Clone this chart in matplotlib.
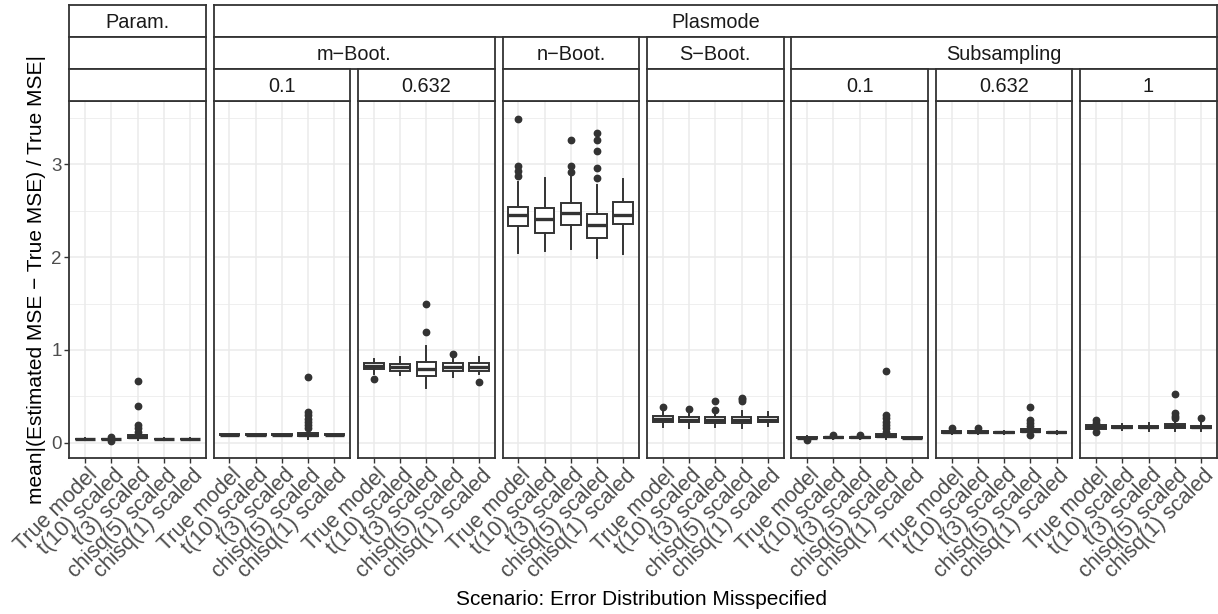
import matplotlib
matplotlib.use('Agg')
import matplotlib.pyplot as plt
import matplotlib.transforms as mtransforms

plt.rcParams['font.family'] = ['Liberation Sans', 'DejaVu Sans']

# categories and facet labels
categories = ['True model', 't(10) scaled', 't(3) scaled', 'chisq(5) scaled', 'chisq(1) scaled']
strip_row1 = [('Param.', 0, 0), ('Plasmode', 1, 7)]
strip_row2 = [('', 0, 0), ('m\u2212Boot.', 1, 2), ('n\u2212Boot.', 3, 3), ('S\u2212Boot.', 4, 4), ('Subsampling', 5, 7)]
strip_row3 = [('', 0, 0), ('0.1', 1, 1), ('0.632', 2, 2), ('', 3, 3), ('', 4, 4),
              ('0.1', 5, 5), ('0.632', 6, 6), ('1', 7, 7)]

# box statistics, one row per panel (Param., m-Boot 0.1, m-Boot 0.632, n-Boot,
# S-Boot, Subsampling 0.1, Subsampling 0.632, Subsampling 1)
medians = [
    [0.040, 0.040, 0.062, 0.040, 0.040],
    [0.088, 0.088, 0.088, 0.085, 0.088],
    [0.826, 0.816, 0.790, 0.815, 0.820],
    [2.454, 2.414, 2.475, 2.349, 2.454],
    [0.255, 0.250, 0.245, 0.245, 0.248],
    [0.055, 0.058, 0.060, 0.070, 0.055],
    [0.115, 0.115, 0.112, 0.125, 0.112],
    [0.167, 0.167, 0.170, 0.178, 0.170],
]
q1 = [
    [0.037, 0.035, 0.050, 0.037, 0.037],
    [0.084, 0.084, 0.084, 0.068, 0.084],
    [0.791, 0.776, 0.720, 0.776, 0.776],
    [2.335, 2.263, 2.350, 2.209, 2.353],
    [0.223, 0.220, 0.215, 0.209, 0.220],
    [0.047, 0.052, 0.055, 0.060, 0.052],
    [0.105, 0.108, 0.106, 0.112, 0.106],
    [0.148, 0.155, 0.155, 0.155, 0.155],
]
q3 = [
    [0.043, 0.045, 0.080, 0.043, 0.043],
    [0.092, 0.092, 0.092, 0.105, 0.092],
    [0.856, 0.848, 0.865, 0.856, 0.856],
    [2.543, 2.532, 2.580, 2.468, 2.594],
    [0.288, 0.280, 0.275, 0.280, 0.275],
    [0.066, 0.064, 0.066, 0.090, 0.059],
    [0.126, 0.122, 0.118, 0.144, 0.118],
    [0.187, 0.180, 0.185, 0.198, 0.185],
]
whislo = [
    [0.030, 0.025, 0.025, 0.032, 0.032],
    [0.078, 0.078, 0.078, 0.040, 0.078],
    [0.740, 0.730, 0.586, 0.705, 0.740],
    [2.047, 2.066, 2.087, 1.994, 2.034],
    [0.172, 0.160, 0.165, 0.160, 0.175],
    [0.040, 0.045, 0.045, 0.040, 0.048],
    [0.090, 0.095, 0.098, 0.090, 0.098],
    [0.130, 0.135, 0.130, 0.130, 0.125],
]
whishi = [
    [0.050, 0.055, 0.100, 0.050, 0.050],
    [0.098, 0.098, 0.098, 0.140, 0.098],
    [0.900, 0.927, 1.040, 0.900, 0.920],
    [2.806, 2.856, 2.880, 2.780, 2.845],
    [0.334, 0.317, 0.320, 0.345, 0.330],
    [0.075, 0.072, 0.075, 0.100, 0.065],
    [0.145, 0.140, 0.130, 0.160, 0.130],
    [0.210, 0.200, 0.215, 0.230, 0.220],
]
outliers = [
    [[], [0.015, 0.058], [0.668, 0.40, 0.19, 0.155, 0.12], [], []],
    [[], [], [], [0.705, 0.33, 0.30, 0.26, 0.22, 0.19, 0.16], []],
    [[0.686], [], [1.498, 1.193], [0.96], [0.654]],
    [[3.49, 2.98, 2.93, 2.87], [], [3.262, 2.978, 2.914], [3.337, 3.259, 3.143, 2.957, 2.849], []],
    [[0.388], [0.366], [0.449, 0.352], [0.485, 0.468, 0.449], []],
    [[0.032], [0.078], [0.080], [0.773, 0.298, 0.263, 0.226, 0.19, 0.155, 0.12], []],
    [[0.162], [0.158], [], [0.385, 0.245, 0.209, 0.18, 0.083], []],
    [[0.245, 0.216, 0.112], [], [], [0.522, 0.317, 0.288, 0.263], [0.263]],
]

W, H = 1218, 614
fig = plt.figure(figsize=(W / 100, H / 100), dpi=100)

dark = '#333333'
grid_col = '#EBEBEB'
p_left0, p_step, p_w = 69.3, 144.43, 136.5
p_top, p_bot = 101.3, 458.3
row_edges = [5.3, 37.3, 69.3, 101.3]


def rect(x0, y0, x1, y1):
    return [x0 / W, 1 - y1 / H, (x1 - x0) / W, (y1 - y0) / H]


axes = []
for i in range(8):
    x0 = p_left0 + p_step * i
    ax = fig.add_axes(rect(x0, p_top, x0 + p_w, p_bot))
    stats = []
    for j in range(5):
        stats.append(dict(med=medians[i][j], q1=q1[i][j], q3=q3[i][j],
                          whislo=whislo[i][j], whishi=whishi[i][j],
                          fliers=outliers[i][j]))
    ax.bxp(stats, positions=range(1, 6), widths=0.75, showcaps=False,
           patch_artist=True,
           boxprops=dict(facecolor='white', edgecolor=dark, linewidth=1.4),
           medianprops=dict(color=dark, linewidth=2.4, solid_capstyle='butt'),
           whiskerprops=dict(color=dark, linewidth=1.4),
           flierprops=dict(marker='o', markerfacecolor=dark, markeredgecolor=dark,
                           markersize=4.6))
    ax.set_xlim(0.4, 5.6)
    ax.set_ylim(-0.168, 3.679)
    ax.set_yticks([0, 1, 2, 3])
    ax.set_yticks([0.5, 1.5, 2.5, 3.5], minor=True)
    ax.set_xticks(range(1, 6))
    ax.grid(True, which='major', color=grid_col, linewidth=1.1)
    ax.grid(True, which='minor', axis='y', color=grid_col, linewidth=0.55)
    ax.set_axisbelow(True)
    for s in ax.spines.values():
        s.set_color(dark)
        s.set_linewidth(1.3)
    ax.tick_params(axis='x', which='major', length=3.6, width=1.0, color=dark,
                   labelsize=15.5, labelcolor='#4D4D4D', pad=1)
    ax.set_xticklabels(categories, rotation=45, ha='right', va='top',
                       rotation_mode='anchor')
    shift = mtransforms.ScaledTranslation(2 / 100, 0, fig.dpi_scale_trans)
    for lab in ax.get_xticklabels():
        lab.set_transform(lab.get_transform() + shift)
    ax.tick_params(axis='y', which='minor', length=0)
    if i == 0:
        ax.tick_params(axis='y', which='major', length=3.6, width=1.0, color=dark,
                       labelsize=13.5, labelcolor='#4D4D4D', pad=2)
    else:
        ax.tick_params(axis='y', which='major', length=0, labelleft=False)
    axes.append(ax)

# nested strips
for r, row in enumerate([strip_row1, strip_row2, strip_row3]):
    for label, a, b in row:
        x0 = p_left0 + p_step * a
        x1 = p_left0 + p_step * b + p_w
        sax = fig.add_axes(rect(x0, row_edges[r], x1, row_edges[r + 1]))
        sax.set_xticks([])
        sax.set_yticks([])
        sax.set_facecolor('white')
        for s in sax.spines.values():
            s.set_color(dark)
            s.set_linewidth(1.3)
        if label:
            sax.text(0.5, 0.47, label, ha='center', va='center', fontsize=14.3,
                     color='#1A1A1A', transform=sax.transAxes)

fig.text(642 / W, 1 - 605 / H, 'Scenario: Error Distribution Misspecified',
         ha='center', va='baseline', fontsize=15)
fig.text(42 / W, 1 - 280 / H, 'mean|(Estimated MSE \u2212 True MSE) / True MSE|',
         ha='center', va='baseline', rotation=90, rotation_mode='anchor', fontsize=15)

fig.savefig('out.png', dpi=100)
